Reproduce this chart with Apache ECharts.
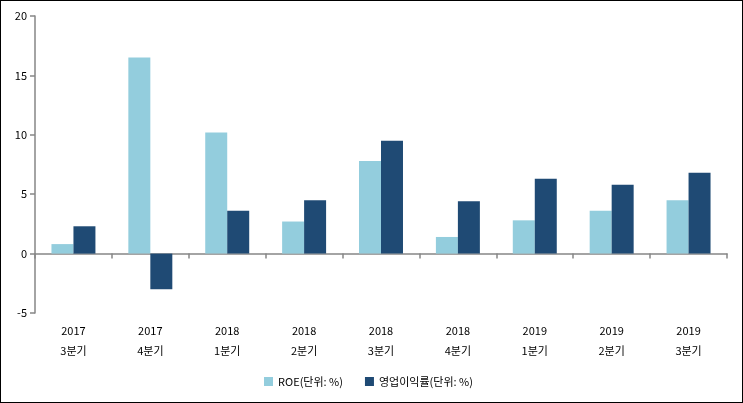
<!DOCTYPE html>
<html><head><meta charset="utf-8">
<script src="https://cdn.jsdelivr.net/npm/echarts@6/dist/echarts.min.js"></script>
<style>html,body{margin:0;padding:0;background:#fff}#c{width:743px;height:403px;box-sizing:border-box;border:1px solid #000}</style>
</head><body><div id="c"></div>
<script>
const categories = ['2017\n3분기','2017\n4분기','2018\n1분기','2018\n2분기','2018\n3분기','2018\n4분기','2019\n1분기','2019\n2분기','2019\n3분기'];
const roe = [0.8, 16.5, 10.2, 2.7, 7.8, 1.4, 2.8, 3.6, 4.5];
const opMargin = [2.3, -3.0, 3.6, 4.5, 9.5, 4.4, 6.3, 5.8, 6.8];
const seriesNames = ['ROE(단위: %)', '영업이익률(단위: %)'];
const font = '"Noto Sans CJK KR", "Noto Sans", sans-serif';
const chart = echarts.init(document.getElementById('c'));
chart.setOption({
  animation: false,
  textStyle: {fontFamily: font},
  grid: {left: 34, right: 15, top: 15, bottom: 89, containLabel: false, outerBoundsMode: 'none'},
  legend: {
    bottom: 10, left: 258, itemWidth: 9, itemHeight: 9, itemGap: 22,
    icon: 'rect',
    textStyle: {fontSize: 11, color: '#000', fontFamily: font},
    data: seriesNames
  },
  xAxis: {
    type: 'category', data: categories, position: 'bottom',
    axisLine: {onZero: true, lineStyle: {color: '#868686', width: 1.5}},
    axisTick: {show: true, length: 5, inside: false, lineStyle: {color: '#868686', width: 1.5}},
    axisLabel: {color: '#000', fontSize: 11, lineHeight: 20, margin: 8, fontFamily: font}
  },
  yAxis: {
    type: 'value', min: -5, max: 20, interval: 5,
    axisLine: {show: true, lineStyle: {color: '#868686', width: 1.5}},
    axisTick: {show: true, length: 5, lineStyle: {color: '#868686', width: 1.5}},
    splitLine: {show: false},
    axisLabel: {color: '#000', fontSize: 11, margin: 8, fontFamily: font}
  },
  series: [{
    name: seriesNames[0], type: 'bar', data: roe,
    itemStyle: {color: '#93CDDD'}, barWidth: '28.6%', barGap: '0%'
  }, {
    name: seriesNames[1], type: 'bar', data: opMargin,
    itemStyle: {color: '#1F4A74'}, barWidth: '28.6%', barGap: '0%'
  }]
});
</script></body></html>
